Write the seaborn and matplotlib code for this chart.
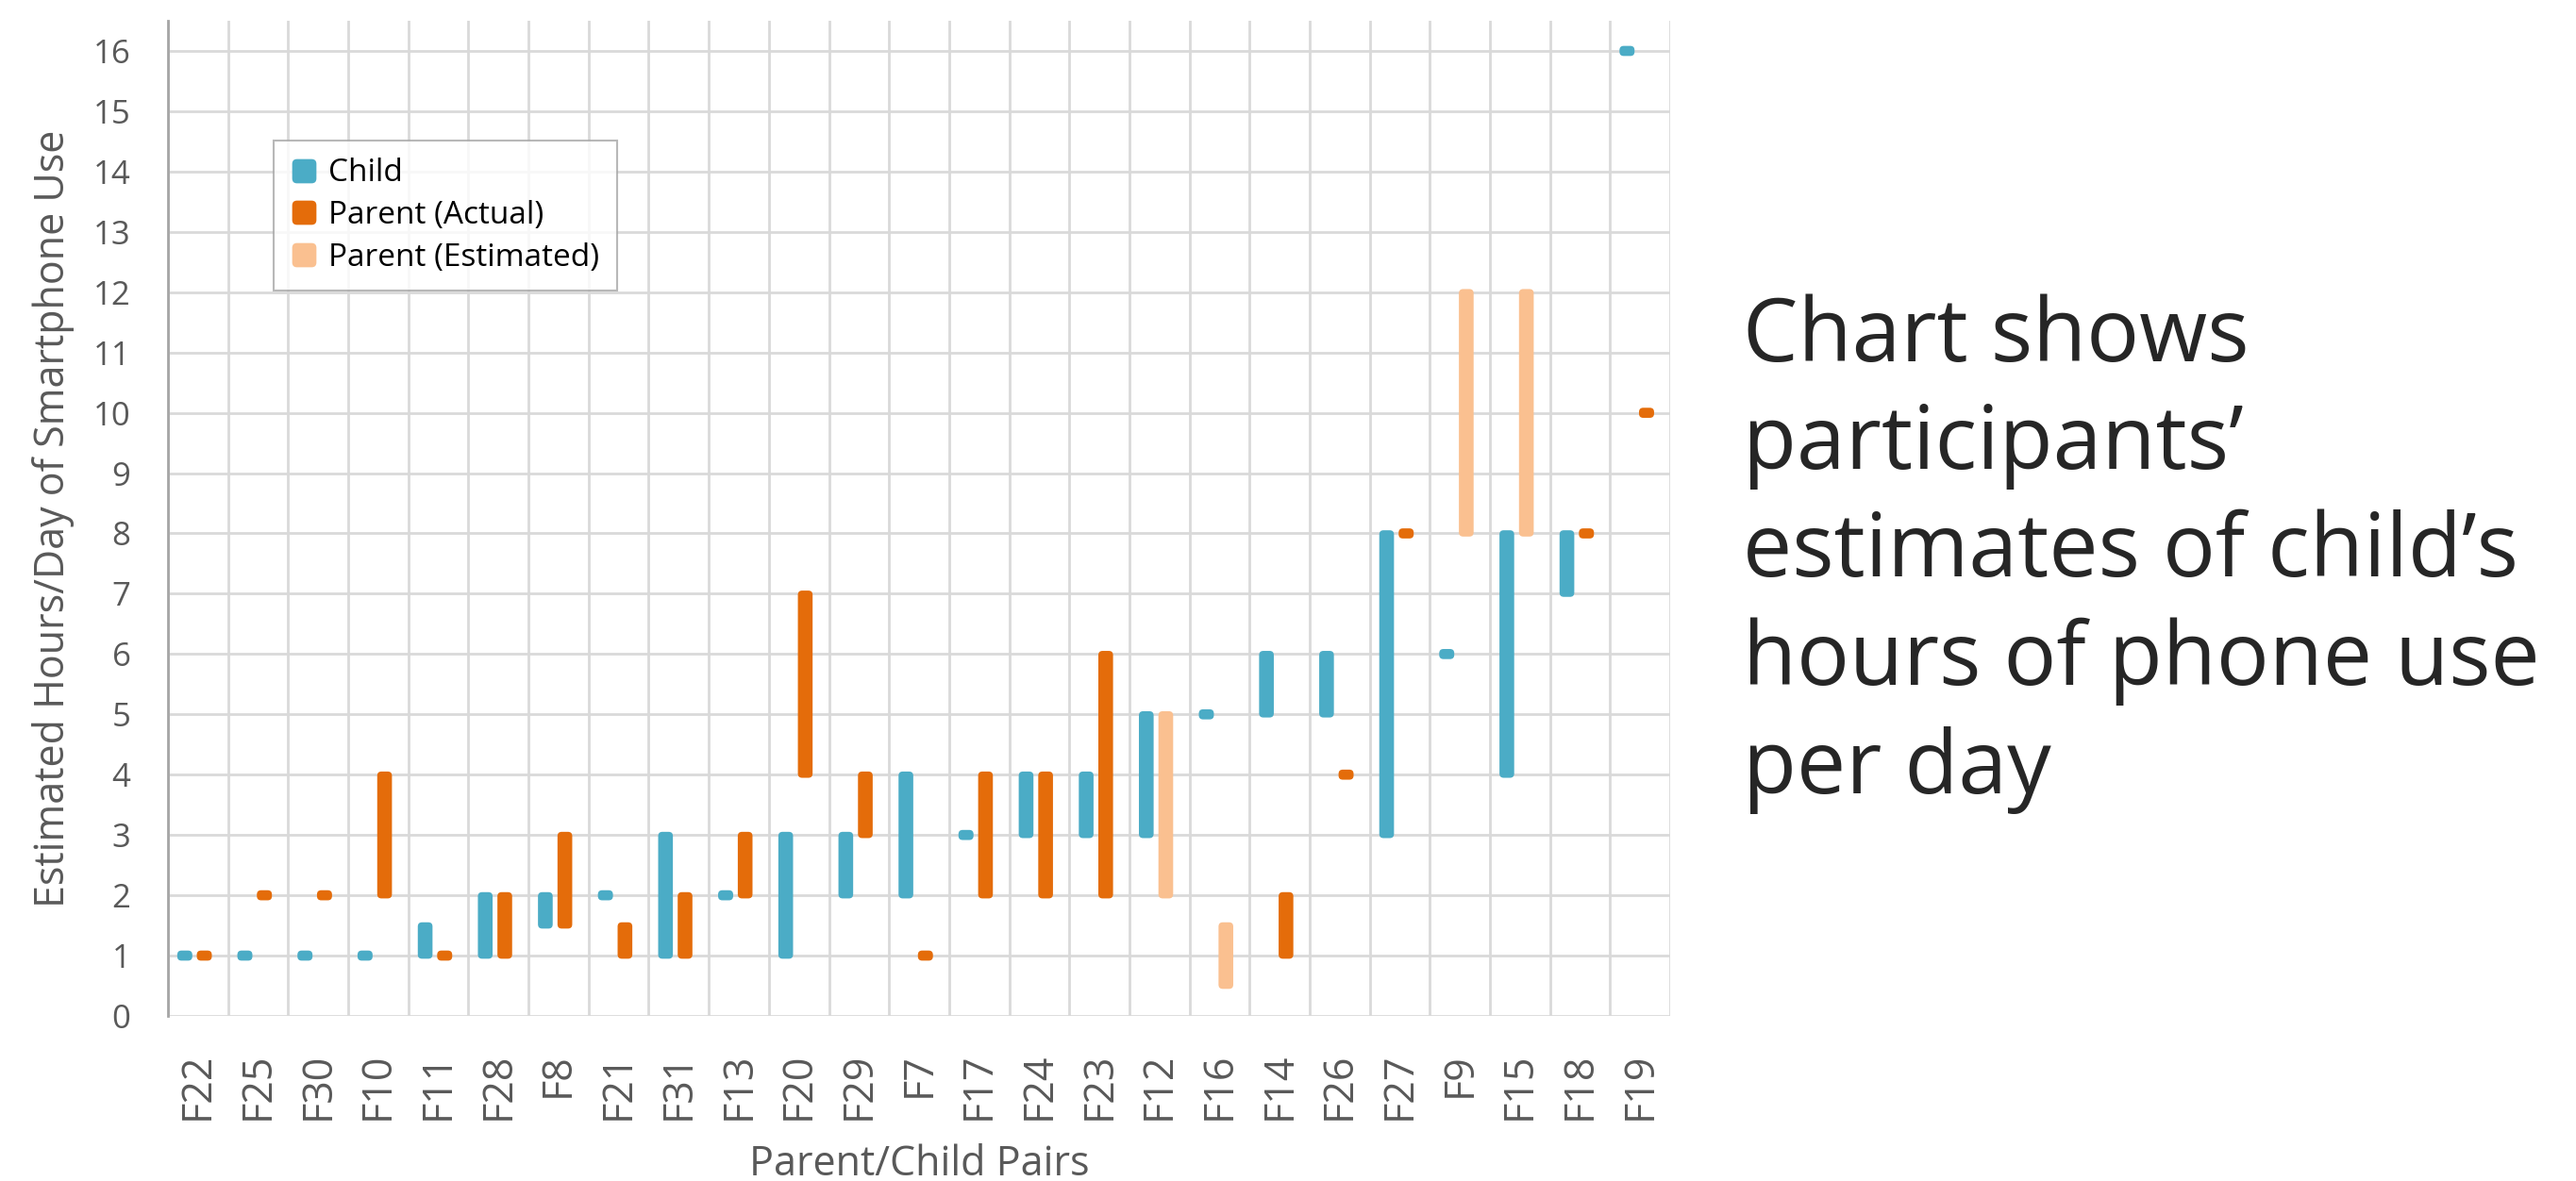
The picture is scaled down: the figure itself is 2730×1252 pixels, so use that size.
import numpy as np
import pandas as pd
import matplotlib
matplotlib.use("Agg")
import matplotlib.pyplot as plt
import seaborn as sns
from matplotlib import font_manager
from matplotlib.lines import Line2D
from matplotlib.markers import MarkerStyle
from matplotlib.patches import BoxStyle, FancyBboxPatch

# data: range (low/high) of estimated hours per pair
pairs = ["F22", "F25", "F30", "F10", "F11", "F28", "F8", "F21", "F31", "F13",
         "F20", "F29", "F7", "F17", "F24", "F23", "F12", "F16", "F14", "F26",
         "F27", "F9", "F15", "F18", "F19"]
child_lo = [1, 1, 1, 1, 1, 1, 1.5, 2, 1, 2, 1, 2, 2, 3, 3, 3, 3, 5, 5, 5, 3, 6, 4, 7, 16]
child_hi = [1, 1, 1, 1, 1.5, 2, 2, 2, 3, 2, 3, 3, 4, 3, 4, 4, 5, 5, 6, 6, 8, 6, 8, 8, 16]
parent_lo = [1, 2, 2, 2, 1, 1, 1.5, 1, 1, 2, 4, 3, 1, 2, 2, 2, 2, 0.5, 1, 4, 8, 8, 8, 8, 10]
parent_hi = [1, 2, 2, 4, 1, 2, 3, 1.5, 2, 3, 7, 4, 1, 4, 4, 6, 5, 1.5, 2, 4, 8, 12, 12, 8, 10]
parent_kind = ["Actual"] * 16 + ["Estimated", "Estimated", "Actual", "Actual", "Actual",
                                 "Estimated", "Estimated", "Actual", "Actual"]

series_names = ["Child", "Parent (Actual)", "Parent (Estimated)"]
series_colors = ["#4bacc6", "#e46c0a", "#fac090"]
palette = dict(zip(series_names, series_colors))

# long table, child slot left of centre, parent slot right of centre
rows = []
for i, p in enumerate(pairs):
    rows.append(dict(pair=p, series="Child", x=i - 0.22, lo=child_lo[i], hi=child_hi[i]))
    rows.append(dict(pair=p, series="Parent (" + parent_kind[i] + ")", x=i + 0.105,
                     lo=parent_lo[i], hi=parent_hi[i]))
df = pd.DataFrame(rows)

sns.set_theme(style="white")
names = {f.name for f in font_manager.fontManager.ttflist}
narrow = "Liberation Sans Narrow" if "Liberation Sans Narrow" in names else "Open Sans"
plt.rcParams["font.family"] = ["Open Sans", "DejaVu Sans"]

fig = plt.figure(figsize=(27.3, 12.52), dpi=100)
ax = fig.add_axes([0.0652, 0.1398, 0.5832, 0.8426])

grid_c = "#d9d9d9"
text_c = "#595959"

# ranges as rounded bars
bar_w = 0.245
pad = 0.052
for r in df[df.lo < df.hi].itertuples():
    ax.add_patch(FancyBboxPatch((r.x - bar_w / 2 + pad, r.lo), bar_w - 2 * pad, r.hi - r.lo,
                                boxstyle=f"round,pad={pad},rounding_size=0.07",
                                facecolor=palette[r.series], edgecolor="none", zorder=3))

# single values as small rounded dots
dot_path = BoxStyle.Round(pad=0, rounding_size=0.28)(-0.5, -0.335, 1.0, 0.67, 1.0)
dot_marker = MarkerStyle(dot_path)
pts = df[df.lo == df.hi]
sns.scatterplot(data=pts, x="x", y="lo", hue="series", palette=palette,
                marker=dot_marker, s=132, linewidth=0, legend=False, ax=ax, zorder=3)

ax.set_xlim(-0.5, 24.2)
ax.set_ylim(0, 16.5)

ax.set_xticks(range(len(pairs)))
ax.set_xticklabels(pairs, rotation=90)
ax.set_xticks(np.arange(-0.5, len(pairs), 1), minor=True)
ax.set_yticks(range(17))

ax.tick_params(axis="x", which="major", length=0, pad=28, labelsize=31, labelcolor=text_c)
ax.tick_params(axis="x", which="minor", length=11.5, width=2, color=grid_c, direction="out")
ax.tick_params(axis="y", which="major", length=9.5, width=2, color=grid_c, pad=19,
               labelsize=25, labelcolor=text_c)
for lab in ax.get_yticklabels():
    lab.set_family([narrow, "Open Sans"])

ax.grid(False)
ax.grid(which="minor", axis="x", color=grid_c, linewidth=2, zorder=0)
ax.grid(which="major", axis="y", color=grid_c, linewidth=2, zorder=0)
ax.set_axisbelow(True)

for side in ["top", "right", "bottom"]:
    ax.spines[side].set_visible(False)
ax.spines["left"].set_color("#a6a6a6")
ax.spines["left"].set_linewidth(2)

ax.set_ylabel("Estimated Hours/Day of Smartphone Use", fontsize=31, color=text_c, labelpad=14)
ax.set_xlabel("Parent/Child Pairs", fontsize=31, color=text_c, va="baseline")
ax.xaxis.set_label_coords(0.5, -0.16)

# legend with rounded square swatches
sq_path = BoxStyle.Round(pad=0, rounding_size=0.2)(-0.5, -0.5, 1.0, 1.0, 1.0)
handles = [Line2D([], [], linestyle="none", marker=MarkerStyle(sq_path), markersize=18.5,
                  markerfacecolor=c, markeredgewidth=0) for c in series_colors]
leg = ax.legend(handles, series_names, loc="upper left", bbox_to_anchor=(0.0704, 0.8796),
                borderaxespad=0, frameon=True, fancybox=False, handlelength=0.8,
                handletextpad=0.4, labelspacing=0.35, borderpad=0.55,
                prop={"family": [narrow, "Open Sans"], "size": 24})
leg.get_frame().set_edgecolor("#a6a6a6")
leg.get_frame().set_linewidth(1.5)
for t in leg.get_texts():
    t.set_color("#000000")

fig.text(0.6766, 0.531,
         "Chart shows\nparticipants\u2019\nestimates of child\u2019s\nhours of phone use\nper day",
         fontsize=67, ha="left", va="center", color="#262626", linespacing=1.3)

fig.savefig("out.png", dpi=100)
